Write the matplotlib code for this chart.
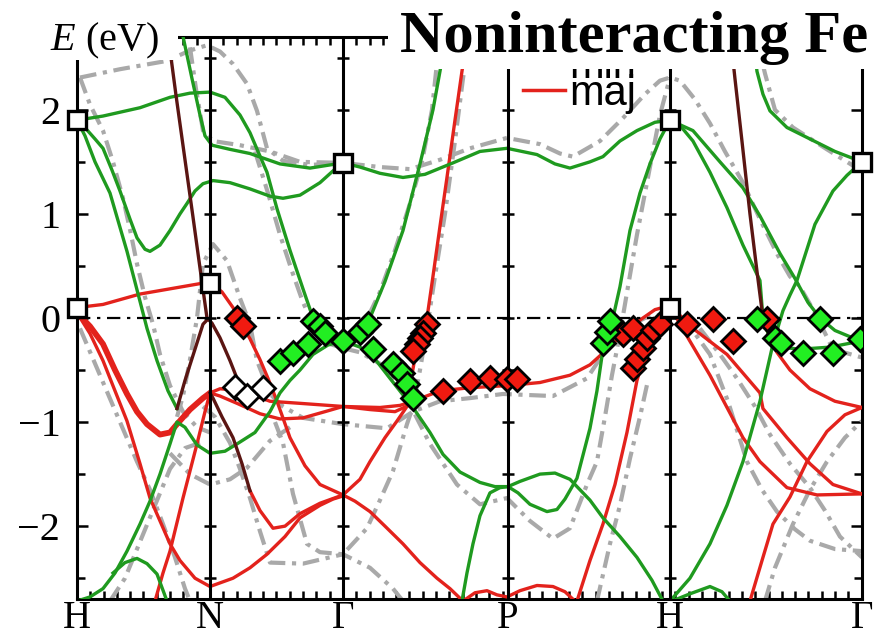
import numpy as np
import matplotlib.pyplot as plt
from matplotlib.lines import Line2D
from matplotlib.patches import Rectangle
from matplotlib.ticker import MultipleLocator

plt.rcParams['font.family'] = ['Liberation Serif', 'DejaVu Serif']
plt.rcParams['mathtext.fontset'] = 'custom'
plt.rcParams['mathtext.it'] = 'Liberation Serif:italic'
plt.rcParams['mathtext.rm'] = 'Liberation Serif'

# high symmetry points along the path
kpts = [0, 133, 266, 431, 593, 785]
klabels = ['H', 'N', 'Γ', 'P', 'H', 'Γ']
eticks = [-2, -1, 0, 1, 2]

# ---- green bands (k, E in eV) ----
g1_k = [0, 26, 63, 93, 113, 133, 148, 163, 173, 181, 190, 200, 213, 226, 236, 248, 258, 266,
        278, 293, 308, 326, 343, 356, 363, 370]
g1_e = [1.9, 1.94, 2.02, 2.12, 2.16, 2.17, 2.12, 1.95, 1.78, 1.6, 1.4, 1.05, 0.65, 0.28, 0.0, -0.13, -0.2, -0.22,
        -0.12, 0.0, 0.35, 0.84, 1.48, 2.0, 2.37, 2.75]
g2_k = [105, 115, 123, 128, 135, 153, 173, 203, 233, 266]
g2_e = [2.75, 2.3, 1.95, 1.75, 1.66, 1.62, 1.58, 1.48, 1.44, 1.49]
g3_k = [0, 6, 18, 26, 35, 43, 53, 60, 68, 73, 83, 93, 103, 110, 118, 126, 136, 153, 173, 193, 206, 223, 243, 258, 266]
g3_e = [1.9, 1.85, 1.72, 1.63, 1.42, 1.22, 0.95, 0.77, 0.66, 0.64, 0.7, 0.84, 1.0, 1.1, 1.22, 1.29, 1.32, 1.3,
        1.24, 1.17, 1.15, 1.18, 1.3, 1.43, 1.49]
g4_k = [0, 8, 18, 33, 50, 63, 70, 80, 91, 100]
g4_e = [1.9, 1.75, 1.5, 1.2, 0.64, 0.16, -0.1, -0.41, -0.7, -0.87]
g5_k = [0, 13, 26, 38, 50, 63, 73, 83, 93, 100, 108, 120, 133, 148, 160, 178, 193, 203, 213, 223, 236, 251, 266]
g5_e = [-2.72, -2.68, -2.6, -2.45, -2.24, -1.98, -1.76, -1.5, -1.21, -1.0, -1.05, -1.22, -1.3, -1.28, -1.21,
        -1.1, -0.9, -0.72, -0.6, -0.5, -0.35, -0.26, -0.22]
g6_k = [36, 48, 60, 70, 80, 90]
g6_e = [-2.45, -2.35, -2.31, -2.36, -2.46, -2.72]
g7_k = [266, 283, 296, 313, 336, 353, 366, 383, 403, 418, 431, 443, 463, 478, 493, 513, 526, 543, 560, 575, 586]
g7_e = [-0.22, -0.28, -0.37, -0.58, -0.86, -1.1, -1.31, -1.48, -1.58, -1.62, -1.62, -1.57, -1.5, -1.49,
        -1.55, -1.75, -1.92, -2.1, -2.3, -2.52, -2.72]
g8_k = [385, 390, 396, 403, 413, 423, 431, 441, 453, 470, 480, 488, 500, 513, 520, 526, 531, 536, 543, 553,
        563, 573, 583, 593]
g8_e = [-2.72, -2.45, -2.17, -1.9, -1.68, -1.63, -1.62, -1.68, -1.79, -1.86, -1.84, -1.74, -1.54, -1.06,
        -0.7, -0.3, -0.1, 0.0, 0.3, 0.84, 1.2, 1.48, 1.72, 1.9]
g9_k = [266, 283, 303, 326, 348, 376, 403, 430, 460, 478, 493, 513, 526, 543, 560, 578, 593]
g9_e = [1.49, 1.45, 1.39, 1.35, 1.38, 1.49, 1.6, 1.63, 1.57, 1.48, 1.44, 1.5, 1.55, 1.7, 1.8, 1.88, 1.9]
g10_k = [593, 603, 616, 633, 650, 666, 683, 686, 693, 703, 723, 753, 785]
g10_e = [1.9, 1.85, 1.7, 1.4, 1.06, 0.7, 0.36, 0.0, -0.2, -0.28, -0.3, -0.28, -0.22]
g11_k = [593, 616, 643, 666, 683, 703, 718, 731, 743, 758, 773, 785]
g11_e = [1.9, 1.8, 1.5, 1.25, 0.98, 0.62, 0.38, 0.15, 0.0, -0.12, -0.18, -0.22]
g12_k = [593, 613, 633, 650, 666, 683, 696, 706, 713, 720, 728, 738, 756, 770, 785]
g12_e = [-2.72, -2.5, -2.17, -1.8, -1.38, -0.8, -0.25, 0.07, 0.22, 0.36, 0.6, 0.9, 1.22, 1.37, 1.5]
g13_k = [676, 680, 686, 693, 710, 733, 758, 785]
g13_e = [2.75, 2.37, 2.15, 1.99, 1.83, 1.72, 1.6, 1.5]
g14_k = [595, 613, 633, 645, 653]
g14_e = [-2.72, -2.65, -2.58, -2.63, -2.72]

# ---- red bands ----
r1_k = [0, 26, 63, 93, 123, 133, 145, 156, 163, 173, 183, 191, 200, 213, 228, 243, 266]
r1_e = [0.1, 0.13, 0.23, 0.28, 0.33, 0.34, 0.25, 0.1, -0.03, -0.2, -0.4, -0.58, -0.8, -1.15, -1.42, -1.6, -1.7]
r2_k = [0, 13, 26, 38, 50, 60, 70, 83, 93, 100, 113, 126, 133]
r2_e = [0.05, -0.08, -0.25, -0.5, -0.73, -0.9, -1.02, -1.12, -1.1, -1.02, -0.88, -0.77, -0.72]
r3_k = [0, 13, 26, 38, 50, 63, 73, 83, 93, 103, 118, 133, 156, 173, 190, 208, 223, 243, 256, 266]
r3_e = [0.05, -0.15, -0.41, -0.7, -0.99, -1.4, -1.73, -1.95, -2.17, -2.33, -2.5, -2.58, -2.5, -2.4, -2.27,
        -2.1, -1.92, -1.8, -1.74, -1.71]
r4_k = [78, 86, 93, 106, 120, 128, 133]
r4_e = [-2.72, -2.45, -2.24, -1.73, -1.21, -0.9, -0.72]
r5_k = [133, 143, 156, 176, 193, 223, 266, 303, 323, 336, 363, 393, 430, 463, 493, 513, 528, 543, 563, 578, 593]
r5_e = [-0.72, -0.68, -0.69, -0.74, -0.8, -0.82, -0.85, -0.86, -0.84, -0.8, -0.7, -0.67, -0.65, -0.62, -0.55,
        -0.45, -0.32, -0.18, -0.02, 0.08, 0.12]
r6_k = [133, 143, 160, 183, 203, 226, 248, 266, 293, 318, 336]
r6_e = [-0.72, -0.75, -0.82, -0.92, -0.97, -0.96, -0.9, -0.85, -0.88, -0.9, -0.82]
r7_k = [173, 183, 196, 208, 223, 243, 266]
r7_e = [-1.66, -1.85, -2.02, -2.0, -1.88, -1.78, -1.7]
r8_k = [266, 283, 293, 308, 320, 330, 334, 338, 343, 350, 356, 363, 370, 378, 385, 391]
r8_e = [-1.7, -1.55, -1.38, -1.15, -0.99, -0.85, -0.6, -0.38, -0.2, 0.0, 0.4, 0.88, 1.35, 1.9, 2.37, 2.75]
r9_k = [266, 278, 293, 308, 326, 343, 360, 373, 386]
r9_e = [-1.7, -1.76, -1.86, -2.0, -2.17, -2.35, -2.5, -2.6, -2.72]
r10_k = [386, 398, 410, 420, 430, 443, 460, 476, 488, 498]
r10_e = [-2.72, -2.64, -2.62, -2.66, -2.68, -2.62, -2.57, -2.58, -2.63, -2.72]
r11_k = [500, 513, 526, 538, 550, 560, 568, 576, 585, 593]
r11_e = [-2.72, -2.33, -1.98, -1.6, -1.1, -0.6, -0.35, -0.15, 0.02, 0.1]
r12_k = [593, 603, 633, 666, 683, 710, 740, 785]
r12_e = [0.12, -0.06, -0.55, -1.15, -1.38, -1.63, -1.7, -1.69]
r13_k = [593, 616, 650, 683, 686, 710, 733, 756, 785]
r13_e = [0.12, -0.1, -0.35, -0.72, -0.87, -1.15, -1.4, -1.6, -1.69]
r14_k = [686, 693, 700, 713, 733, 758, 785]
r14_e = [0.0, -0.2, -0.33, -0.5, -0.68, -0.8, -0.86]
r15_k = [673, 686, 696, 713, 730, 750, 768, 785]
r15_e = [-2.72, -2.3, -1.98, -1.72, -1.38, -1.09, -0.93, -0.86]

# ---- dark (mixed) bands ----
d1_k = [91, 99, 108, 116, 123, 130, 135, 143, 153, 160, 168, 178, 188]
d1_e = [2.72, 2.14, 1.52, 0.97, 0.48, 0.0, -0.05, -0.19, -0.41, -0.58, -0.68, -0.74, -0.78]
d2_k = [100, 108, 118, 126, 131]
d2_e = [-0.87, -0.6, -0.3, -0.06, -0.01]
d3_k = [133, 136, 145, 156, 165, 173]
d3_e = [-0.72, -0.77, -0.95, -1.15, -1.4, -1.66]
d4_k = [653, 658, 665, 673, 680, 686]
d4_e = [2.75, 2.3, 1.7, 1.0, 0.45, 0.0]

# ---- gray dash-dot bands ----
y1_k = [3, 43, 90, 113, 130, 143, 156, 170, 180, 190, 206, 233, 266, 303, 333, 363, 393, 430, 463, 483, 496,
        523, 546, 568, 583, 593, 603, 618, 633, 648, 666, 683, 701, 713, 723, 738, 756, 785]
y1_e = [2.31, 2.39, 2.47, 2.57, 2.62, 2.56, 2.44, 2.25, 1.99, 1.63, 1.51, 1.47, 1.49, 1.45, 1.43, 1.52, 1.63,
        1.73, 1.67, 1.58, 1.55, 1.7, 1.92, 2.15, 2.28, 2.31, 2.28, 2.1, 1.87, 1.6, 1.3, 0.95, 0.6, 0.4, 0.3,
        0.05, -0.3, -0.38]
y2_k = [3, 13, 26, 36, 46, 53, 60, 68, 76, 83, 93, 106, 120, 133]
y2_e = [2.31, 2.05, 1.8, 1.5, 1.15, 0.85, 0.52, 0.2, -0.06, -0.35, -0.65, -0.9, -1.05, -1.1]
y3_k = [113, 119, 126, 136, 163, 193, 223, 266]
y3_e = [2.6, 2.2, 1.8, 1.7, 1.66, 1.6, 1.5, 1.49]
y4_k = [100, 106, 113, 120, 126, 136, 150, 163, 173, 180, 193, 206, 226, 266, 310, 336, 363, 393, 426, 476,
        510, 530, 548, 568, 593]
y4_e = [-0.95, -0.75, -0.4, 0.0, 0.52, 0.71, 0.55, 0.19, -0.06, -0.41, -0.73, -0.85, -0.96, -1.02, -1.06,
        -0.9, -0.8, -0.77, -0.73, -0.75, -0.58, -0.29, -0.1, 0.0, 0.05]
y5_k = [266, 283, 303, 326, 353, 380, 403, 430, 453, 476, 493, 510, 520, 528, 535, 543, 551, 560, 571, 583, 593]
y5_e = [-0.29, -0.33, -0.44, -0.7, -1.21, -1.6, -1.79, -1.73, -1.95, -2.12, -2.02, -1.6, -1.38, -0.95, -0.55,
        -0.15, 0.3, 0.8, 1.35, 1.95, 2.31]
y6_k = [178, 191, 203, 215, 226, 238, 253, 266]
y6_e = [1.6, 1.2, 0.8, 0.45, 0.15, -0.1, -0.25, -0.29]
y7_k = [93, 113, 133, 153, 170, 193, 213]
y7_e = [-1.3, -1.5, -1.6, -1.55, -1.44, -1.18, -1.05]
y8_k = [126, 138, 153, 163, 173, 183, 193, 226, 266, 293, 316, 326]
y8_e = [-0.85, -0.95, -1.2, -1.45, -1.73, -2.05, -2.35, -2.36, -2.27, -2.4, -2.6, -2.72]
y9_k = [198, 206, 216, 230, 243, 266, 290, 303, 316, 330, 336, 343, 350, 358, 368, 378, 386, 393]
y9_e = [-1.0, -1.2, -1.69, -2.17, -2.25, -2.27, -2.02, -1.75, -1.47, -1.02, -0.85, -0.5, -0.1, 0.4, 1.0, 1.7,
        2.3, 2.75]
y10_k = [273, 288, 303, 318, 333, 345, 355, 363]
y10_e = [-0.25, -0.05, 0.25, 0.65, 1.1, 1.5, 2.0, 2.72]
y12_k = [603, 618, 633, 651, 670, 685, 700, 718, 733, 758, 785]
y12_e = [0.0, -0.15, -0.35, -0.8, -1.38, -1.65, -1.86, -2.03, -2.14, -2.22, -2.24]
y13_k = [623, 643, 660, 678, 693, 713, 733, 748, 763, 785]
y13_e = [-0.1, -0.35, -0.58, -0.85, -1.12, -1.4, -1.63, -1.85, -2.1, -2.3]
y14_k = [688, 698, 716, 733, 750, 768, 785]
y14_e = [-2.72, -2.4, -1.98, -1.65, -1.38, -1.15, -0.99]
y17_k = [678, 688, 698, 716, 750, 785]
y17_e = [2.75, 2.35, 2.0, 1.83, 1.62, 1.41]
y18_k = [3, 23, 43, 60, 73, 86, 98, 108, 113]
y18_e = [-0.1, -0.55, -1.0, -1.38, -1.65, -1.98, -2.3, -2.6, -2.72]
y19_k = [33, 48, 63, 78, 93, 108, 123]
y19_e = [-2.72, -2.5, -2.15, -1.8, -1.45, -1.25, -1.2]
y22_k = [520, 533, 543, 553, 563, 571]
y22_e = [-2.72, -2.17, -1.8, -1.35, -0.95, -0.6]

# ---- markers ----
sq_k = [0, 0, 133, 266, 593, 593, 785]
sq_e = [1.9, 0.1, 0.34, 1.49, 1.9, 0.1, 1.5]
red_dia_k = [160, 166, 350, 346, 343, 340, 336, 366, 393, 413, 430, 440, 546, 556, 556, 560, 566, 570, 576,
             583, 610, 636, 656, 690]
red_dia_e = [0.0, -0.08, -0.06, -0.14, -0.19, -0.25, -0.32, -0.7, -0.61, -0.58, -0.59, -0.59, -0.15, -0.1,
             -0.48, -0.39, -0.29, -0.19, -0.12, -0.06, -0.06, -0.01, -0.22, -0.01]
grn_dia_k = [203, 216, 231, 236, 243, 248, 266, 283, 291, 296, 316, 325, 330, 336, 526, 530, 533, 680, 698,
             704, 726, 743, 756, 783]
grn_dia_e = [-0.41, -0.34, -0.25, -0.03, -0.08, -0.14, -0.22, -0.13, -0.06, -0.3, -0.44, -0.53, -0.63, -0.77,
             -0.24, -0.13, -0.03, -0.01, -0.19, -0.24, -0.34, -0.01, -0.34, -0.2]
wht_dia_k = [158, 170, 186]
wht_dia_e = [-0.66, -0.75, -0.67]

green = [(g1_k, g1_e), (g2_k, g2_e), (g3_k, g3_e), (g4_k, g4_e), (g5_k, g5_e), (g6_k, g6_e), (g7_k, g7_e),
         (g8_k, g8_e), (g9_k, g9_e), (g10_k, g10_e), (g11_k, g11_e), (g12_k, g12_e), (g13_k, g13_e),
         (g14_k, g14_e)]
red = [(r1_k, r1_e), (r3_k, r3_e), (r4_k, r4_e), (r5_k, r5_e), (r6_k, r6_e), (r7_k, r7_e), (r8_k, r8_e),
       (r9_k, r9_e), (r10_k, r10_e), (r11_k, r11_e), (r12_k, r12_e), (r13_k, r13_e), (r14_k, r14_e),
       (r15_k, r15_e)]
dark = [(d1_k, d1_e), (d2_k, d2_e), (d3_k, d3_e), (d4_k, d4_e)]
gray = [(y1_k, y1_e), (y2_k, y2_e), (y3_k, y3_e), (y4_k, y4_e), (y5_k, y5_e), (y6_k, y6_e), (y7_k, y7_e),
        (y8_k, y8_e), (y9_k, y9_e), (y10_k, y10_e), (y12_k, y12_e), (y13_k, y13_e), (y14_k, y14_e),
        (y17_k, y17_e), (y18_k, y18_e), (y19_k, y19_e), (y22_k, y22_e)]

GREEN = '#1f9a1f'
RED = '#e3221c'
DARK = '#5a1512'
GRAY = '#a9a9a9'

fig = plt.figure(figsize=(8.79, 6.38), dpi=100)
ax = fig.add_axes([0.0876, 0.0611, 0.893, 0.881])

for k, e in gray:
    ax.plot(k, e, color=GRAY, lw=3, ls=(0, (4, 1.6, 1, 1.6)), zorder=2)
ax.plot(r2_k, r2_e, color=RED, lw=4.2, zorder=3)
for k, e in red:
    ax.plot(k, e, color=RED, lw=2.4, zorder=3)
for k, e in green:
    ax.plot(k, e, color=GREEN, lw=2.4, zorder=3)
for k, e in dark:
    ax.plot(k, e, color=DARK, lw=2.4, zorder=3)

ax.axhline(0, color='black', lw=1.6, ls=(0, (6, 3, 1.5, 3)), zorder=4)
for kp in kpts[1:-1]:
    ax.axvline(kp, color='black', lw=2.2, zorder=4)
    ax.plot([kp] * 11, np.arange(-2.5, 2.6, 0.5), ls='none', marker='_', ms=9, mew=1.8,
            color='black', zorder=4)

ax.plot(red_dia_k, red_dia_e, 'D', ms=12, mfc='#f01a10', mec='black', mew=2, ls='none', zorder=6)
ax.plot(grn_dia_k, grn_dia_e, 'D', ms=12, mfc='#22ee22', mec='black', mew=2, ls='none', zorder=6)
ax.plot(wht_dia_k, wht_dia_e, 'D', ms=12, mfc='white', mec='black', mew=2, ls='none', zorder=6)
ax.plot(sq_k, sq_e, 's', ms=13, mfc='white', mec='black', mew=2.4, ls='none', zorder=7, clip_on=False)

ax.set_xlim(kpts[0], kpts[-1])
ax.set_ylim(-2.7, 2.7)
ax.set_xticks(kpts)
ax.set_xticklabels(klabels)
ax.set_yticks(eticks)
ax.xaxis.set_minor_locator(MultipleLocator(13.3))
ax.yaxis.set_minor_locator(MultipleLocator(0.5))
ax.tick_params(which='both', direction='in', top=True, right=True, width=1.8, labelsize=29)
ax.tick_params(which='major', length=8)
ax.tick_params(which='minor', length=6)
ax.tick_params(axis='y', pad=12)
ax.tick_params(axis='x', pad=1, labelsize=28)
for s in ax.spines.values():
    s.set_linewidth(2.2)

leg = ax.legend([Line2D([], [], color=GREEN, lw=2.5), Line2D([], [], color=RED, lw=2.5)],
                ['min', 'maj'], loc='lower left', bbox_to_anchor=(523 / 879, 1 - 114 / 638),
                bbox_transform=fig.transFigure, frameon=False, borderpad=0, borderaxespad=0,
                handlelength=1.0, handletextpad=0.1, labelspacing=-0.3,
                prop={'family': 'Liberation Sans', 'size': 30})
leg.set_zorder(8)

# white boxes that hide the top of the frame behind the labels
fig.add_artist(Rectangle((40 / 879, 1 - 60 / 638), 138 / 879, 60 / 638, transform=fig.transFigure,
                         facecolor='white', edgecolor='none', zorder=5))
fig.add_artist(Rectangle((388 / 879, 1 - 69 / 638), 491 / 879, 69 / 638, transform=fig.transFigure,
                         facecolor='white', edgecolor='none', zorder=5))
fig.text(50 / 879, 1 - 50 / 638, r'$E$ (eV)', fontsize=29, ha='left', va='baseline', zorder=6)
fig.text(400 / 879, 1 - 52 / 638, 'Noninteracting Fe', fontsize=43.5, fontweight='bold',
         ha='left', va='baseline', zorder=6)

fig.savefig('out.png', dpi=100)
